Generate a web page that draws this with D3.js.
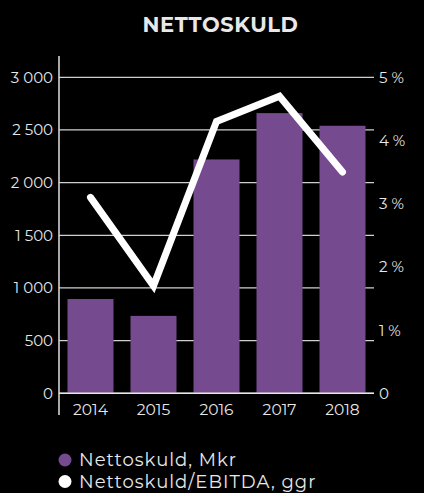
<!DOCTYPE html>
<html>
<head>
<meta charset="utf-8">
<script src="https://cdn.jsdelivr.net/npm/d3@7"></script>
<style>
  html, body { margin: 0; padding: 0; background: #000; }
  svg { display: block; }
  text { font-family: "Montserrat", "Open Sans", "Noto Sans", sans-serif; fill: #e8e8e8; }
</style>
</head>
<body>
<svg id="chart" width="424" height="493"></svg>
<script>
// Net debt (MSEK) and net debt / EBITDA (times) by year
const years = ["2014", "2015", "2016", "2017", "2018"];
const netDebt = [895, 735, 2220, 2660, 2540];
const debtRatio = [3.1, 1.7, 4.3, 4.7, 3.5];

const leftTicks = [0, 500, 1000, 1500, 2000, 2500, 3000];
const leftTickLabels = ["0", "500", "1 000", "1 500", "2 000", "2 500", "3 000"];
const rightTicks = [0, 1, 2, 3, 4, 5];
const rightTickLabels = ["0", "1 %", "2 %", "3 %", "4 %", "5 %"];

const title = "NETTOSKULD";
const legendLabels = ["Nettoskuld, Mkr", "Nettoskuld/EBITDA, ggr"];

const barColor = "#754a8f";
const lineColor = "#ffffff";

const svg = d3.select("#chart");

const x0 = 59, x1 = 374, yTop = 77.3, yBottom = 393.3;

const x = d3.scaleBand().domain(years).range([x0, x1]).paddingInner(0.27).paddingOuter(0.135);
const yL = d3.scaleLinear().domain([0, 3000]).range([yBottom, yTop]);
const yR = d3.scaleLinear().domain([0, 5]).range([yBottom, yTop]);

// title
svg.append("text")
  .attr("x", 220.5).attr("y", 32)
  .attr("text-anchor", "middle")
  .style("font-size", "21px").style("font-weight", "bold")
  .style("letter-spacing", "0.6px")
  .text(title);

// horizontal gridlines
svg.append("g")
  .selectAll("line").data(leftTicks).join("line")
  .attr("x1", x0).attr("x2", x1)
  .attr("y1", d => yL(d)).attr("y2", d => yL(d))
  .attr("stroke", "#d0d0d0").attr("stroke-width", 1.2);

// left vertical axis line
svg.append("line")
  .attr("x1", x0).attr("x2", x0).attr("y1", 56).attr("y2", 415)
  .attr("stroke", "#e0e0e0").attr("stroke-width", 1.5);

// bars
svg.append("g")
  .selectAll("rect").data(years).join("rect")
  .attr("x", d => x(d))
  .attr("width", x.bandwidth())
  .attr("y", (d, i) => yL(netDebt[i]))
  .attr("height", (d, i) => yBottom - yL(netDebt[i]))
  .attr("fill", barColor);

// baseline over the bars
svg.append("line")
  .attr("x1", x0).attr("x2", x1).attr("y1", yBottom).attr("y2", yBottom)
  .attr("stroke", "#e8e8e8").attr("stroke-width", 1.5);

// left tick labels
svg.append("g")
  .selectAll("text").data(leftTicks).join("text")
  .attr("x", 53).attr("y", d => yL(d))
  .attr("dy", "0.36em")
  .attr("text-anchor", "end")
  .style("font-size", "15px")
  .style("white-space", "pre")
  .text((d, i) => leftTickLabels[i]);

// right tick labels
svg.append("g")
  .selectAll("text").data(rightTicks).join("text")
  .attr("x", 379).attr("y", d => yR(d))
  .attr("dy", "0.36em")
  .attr("text-anchor", "start")
  .style("font-size", "15px")
  .text((d, i) => rightTickLabels[i]);

// x labels
svg.append("g")
  .selectAll("text").data(years).join("text")
  .attr("x", d => x(d) + x.bandwidth() / 2)
  .attr("y", 415)
  .attr("text-anchor", "middle")
  .style("font-size", "15.5px")
  .text(d => d);

// ratio line
const line = d3.line()
  .x((d, i) => x(years[i]) + x.bandwidth() / 2)
  .y(d => yR(d));

svg.append("path")
  .datum(debtRatio)
  .attr("d", line)
  .attr("fill", "none")
  .attr("stroke", lineColor)
  .attr("stroke-width", 7)
  .attr("stroke-linecap", "round")
  .attr("stroke-linejoin", "miter");

// legend
const legend = svg.append("g");
const legendColors = [barColor, lineColor];
legendLabels.forEach((lab, i) => {
  const ly = 460 + i * 21.5;
  legend.append("circle").attr("cx", 65).attr("cy", ly).attr("r", 6.5).attr("fill", legendColors[i]);
  legend.append("text").attr("x", 79).attr("y", ly).attr("dy", "0.36em")
    .style("font-size", "18px").style("letter-spacing", "1px").text(lab);
});
</script>
</body>
</html>
